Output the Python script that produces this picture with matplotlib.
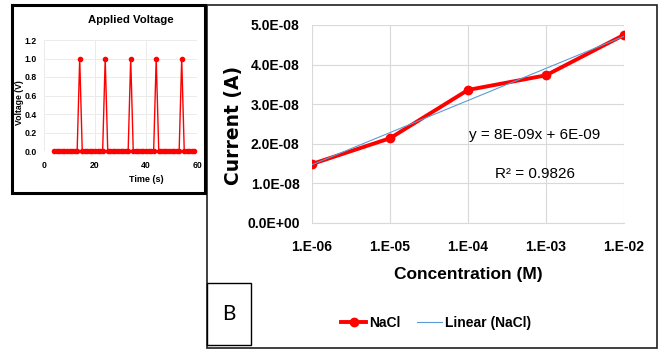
import matplotlib
matplotlib.use("Agg")
import matplotlib.pyplot as plt
from matplotlib.patches import Rectangle
import numpy as np

# main chart data
conc_labels = ["1.E-06", "1.E-05", "1.E-04", "1.E-03", "1.E-02"]
current = [1.49e-8, 2.14e-8, 3.36e-8, 3.73e-8, 4.75e-8]
y_ticks = [0, 1e-8, 2e-8, 3e-8, 4e-8, 5e-8]
y_tick_labels = ["0.0E+00", "1.0E-08", "2.0E-08", "3.0E-08", "4.0E-08", "5.0E-08"]

# inset data (applied voltage pulses)
time_s = [4, 5, 6, 7, 8, 9, 10, 11, 12, 13, 14, 15, 16, 17, 18, 19, 20, 21, 22, 23,
          24, 25, 26, 27, 28, 29, 30, 31, 32, 33, 34, 35, 36, 37, 38, 39, 40, 41, 42,
          43, 44, 45, 46, 47, 48, 49, 50, 51, 52, 53, 54, 55, 56, 57, 58, 59]
volt = [0, 0, 0, 0, 0, 0, 0, 0, 0, 0, 1, 0, 0, 0, 0, 0, 0, 0, 0, 0,
        1, 0, 0, 0, 0, 0, 0, 0, 0, 0, 1, 0, 0, 0, 0, 0, 0, 0, 0,
        0, 1, 0, 0, 0, 0, 0, 0, 0, 0, 0, 1, 0, 0, 0, 0, 0]

W, H = 658, 350
fig = plt.figure(figsize=(W / 100, H / 100), dpi=100)
plt.rcParams['font.family'] = ['Liberation Sans', 'DejaVu Sans']

def fx(px):
    return px / W

def fy(py):
    return 1 - py / H

# frames
fig.patches.append(Rectangle((fx(207), fy(348)), fx(657) - fx(207), fy(5) - fy(348),
                             transform=fig.transFigure, fill=False, ec='#202020', lw=1.2))
fig.patches.append(Rectangle((fx(12), fy(193)), fx(205) - fx(12), fy(5) - fy(193),
                             transform=fig.transFigure, fill=False, ec='black', lw=2.2))
fig.patches.append(Rectangle((fx(207), fy(345)), fx(251) - fx(207), fy(283) - fy(345),
                             transform=fig.transFigure, fill=False, ec='black', lw=1))
fig.text(fx(229), fy(314), "B", ha='center', va='center', fontsize=15, family=['Lato', 'DejaVu Sans'])

# main axes
ax = fig.add_axes([fx(312), fy(223), fx(624) - fx(312), fy(25) - fy(223)])
x = np.arange(len(conc_labels))
coef = np.polyfit(x + 1, current, 1)
trend = np.polyval(coef, x + 1)
ax.plot(x, current, color='#FF0000', lw=2.8, marker='o', ms=6, label='NaCl', zorder=3)
ax.plot(x, trend, color='#5B9BD5', lw=0.8, label='Linear (NaCl)', zorder=4)
ax.set_xlim(0, 4)
ax.set_ylim(0, 5e-8)
ax.set_xticks(x)
ax.set_xticklabels(conc_labels)
ax.set_yticks(y_ticks)
ax.set_yticklabels(y_tick_labels)
ax.grid(True, color='#D9D9D9', lw=0.8)
ax.set_axisbelow(True)
for s in ['top', 'right', 'left']:
    ax.spines[s].set_visible(False)
ax.spines['bottom'].set_color('#D9D9D9')
ax.tick_params(length=0)
ax.tick_params(axis='x', pad=12)
ax.tick_params(axis='y', pad=9)
for lab in ax.get_xticklabels() + ax.get_yticklabels():
    lab.set_fontweight('bold')
    lab.set_fontsize(10)

ax.text(0.715, 0.444, "y = 8E-09x + 6E-09", transform=ax.transAxes, ha='center', va='center',
        fontsize=11)
ax.text(0.715, 0.247, "R² = 0.9826", transform=ax.transAxes, ha='center', va='center',
        fontsize=11)

fig.text(fx(468), fy(275), "Concentration (M)", ha='center', va='center', fontsize=12.5, fontweight='bold')
fig.text(fx(234), fy(125), "Current (A)", ha='center', va='center', rotation=90, fontsize=13.5,
         fontweight='bold', family=['DejaVu Sans'])

fig.legend(loc='center', bbox_to_anchor=(fx(436), fy(323)), ncol=2, frameon=False,
           prop={'weight': 'bold', 'size': 10}, handlelength=1.8, handletextpad=0.2,
           columnspacing=1.2)

# inset axes
ai = fig.add_axes([fx(44), fy(151), fx(197) - fx(44), fy(40) - fy(151)])
ai.plot(time_s, volt, color='#FF0000', lw=1, marker='o', ms=3, clip_on=False)
ai.set_xlim(0, 60)
ai.set_ylim(0, 1.2)
ai.set_xticks([0, 20, 40, 60])
ai.set_yticks([0, 0.2, 0.4, 0.6, 0.8, 1.0, 1.2])
ai.set_yticklabels(["0.0", "0.2", "0.4", "0.6", "0.8", "1.0", "1.2"])
ai.grid(True, color='#EBEBEB', lw=0.7)
ai.set_axisbelow(True)
for s in ai.spines.values():
    s.set_visible(False)
ai.tick_params(length=0, labelsize=6.2)
ai.tick_params(axis='x', pad=7)
ai.tick_params(axis='y', pad=5)
for lab in ai.get_xticklabels() + ai.get_yticklabels():
    lab.set_fontweight('bold')

fig.text(fx(131), fy(20), "Applied Voltage", ha='center', va='center', fontsize=8.2, fontweight='bold')
fig.text(fx(146), fy(180), "Time (s)", ha='center', va='center', fontsize=6.5, fontweight='bold')
fig.text(fx(19), fy(103), "Voltage (V)", ha='center', va='center', rotation=90, fontsize=6.2, fontweight='bold')

fig.savefig("out.png", dpi=100)
